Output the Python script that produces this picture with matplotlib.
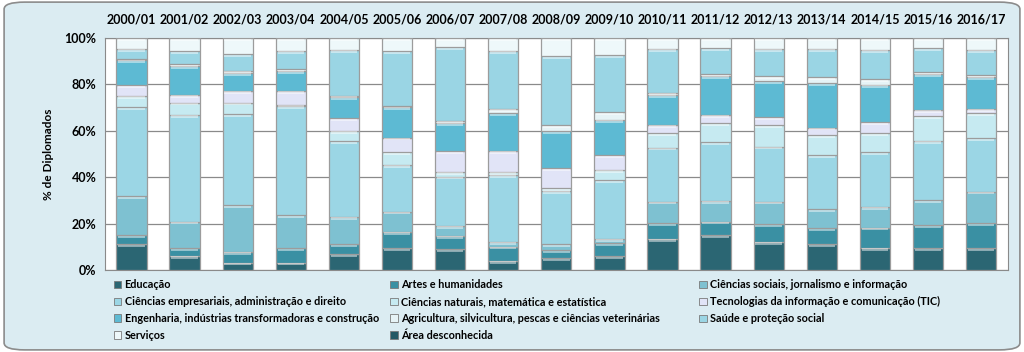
import numpy as np
import matplotlib
matplotlib.use("Agg")
import matplotlib.pyplot as plt
from matplotlib.patches import FancyBboxPatch, Patch

# anos letivos
anos = ["2000/01", "2001/02", "2002/03", "2003/04", "2004/05", "2005/06", "2006/07",
        "2007/08", "2008/09", "2009/10", "2010/11", "2011/12", "2012/13", "2013/14",
        "2014/15", "2015/16", "2016/17"]

# % de diplomados por area
educacao = [11.1, 6.2, 3.2, 3.2, 6.8, 9.4, 8.9, 4.0, 5.0, 6.0, 13.4, 15.1, 12.2, 11.1, 9.6, 9.4, 9.4]
artes = [4.0, 3.2, 4.7, 6.2, 4.3, 7.1, 5.8, 6.1, 3.6, 5.5, 6.7, 5.8, 7.5, 6.9, 8.7, 10.0, 10.7]
ciencias_sociais = [16.8, 11.5, 19.9, 14.3, 11.9, 8.7, 4.4, 2.1, 2.5, 1.9, 9.4, 8.9, 9.8, 8.3, 9.0, 10.8, 13.7]
empresariais = [38.2, 46.0, 39.4, 46.8, 32.4, 20.1, 21.2, 28.8, 23.0, 25.4, 23.3, 25.3, 23.7, 23.1, 23.5, 25.5, 23.0]
naturais = [5.0, 5.3, 5.0, 0.7, 4.6, 5.5, 2.1, 1.4, 1.2, 4.4, 6.2, 8.2, 9.1, 8.6, 8.2, 10.5, 10.8]
tic = [4.5, 3.3, 5.1, 6.1, 5.5, 6.3, 8.7, 9.0, 8.6, 6.4, 3.6, 3.6, 3.5, 3.4, 4.7, 2.9, 1.9]
engenharia = [11.0, 12.6, 7.6, 8.6, 9.2, 13.0, 12.2, 16.2, 15.8, 15.1, 12.9, 16.6, 15.5, 19.2, 16.2, 15.4, 13.5]
agricultura = [0.3, 0.7, 1.0, 0.7, 0.4, 0.5, 1.0, 1.9, 2.6, 3.2, 1.0, 1.0, 2.2, 2.4, 2.4, 0.8, 0.9]
saude = [4.4, 5.4, 7.2, 7.9, 19.9, 23.6, 31.7, 25.0, 29.8, 24.6, 18.9, 11.2, 11.9, 12.4, 12.7, 10.4, 11.1]
servicos = [4.7, 5.8, 6.9, 5.5, 5.0, 5.8, 4.0, 5.5, 7.9, 7.5, 4.6, 4.3, 4.6, 4.6, 5.0, 4.3, 5.0]
desconhecida = [0.0] * 17

areas = ["Educação", "Artes e humanidades", "Ciências sociais, jornalismo e informação",
         "Ciências empresariais, administração e direito",
         "Ciências naturais, matemática e estatística",
         "Tecnologias da informação e comunicação (TIC)",
         "Engenharia, indústrias transformadoras e construção",
         "Agricultura, silvicultura, pescas e ciências veterinárias",
         "Saúde e proteção social", "Serviços", "Área desconhecida"]
series = [educacao, artes, ciencias_sociais, empresariais, naturais, tic,
          engenharia, agricultura, saude, servicos, desconhecida]
cores = ["#2b6673", "#3a90a3", "#7ec1d1", "#9bd6e5", "#c6eaf1", "#e1e4f7",
         "#5dbad3", "#e6f3f6", "#9ad5e4", "#eef8fa", "#245965"]

plt.rcParams["font.family"] = ["Lato", "DejaVu Sans"]

fig = plt.figure(figsize=(10.24, 3.52), dpi=100)
fig.patch.set_facecolor("white")
fig.patches.append(FancyBboxPatch((0.004, 0.006), 0.992, 0.988,
                                  boxstyle="round,pad=0,rounding_size=0.02",
                                  transform=fig.transFigure, facecolor="#dbecf2",
                                  edgecolor="#8c8c8c", linewidth=1.2, zorder=-1))

ax = fig.add_axes([0.1025, 0.233, 0.8815, 0.659])
x = np.arange(len(anos))
bottom = np.zeros(len(anos))
for vals, cor in zip(series, cores):
    v = np.array(vals)
    ax.bar(x, v, 0.57, bottom=bottom, color=cor, edgecolor="#9c9c9c", linewidth=0.9, zorder=3)
    # faixa clara no topo de cada segmento (efeito biselado)
    hl = np.minimum(v, 1.0)
    ax.bar(x, hl, 0.50, bottom=bottom + v - hl - 0.25, color="white", alpha=0.45,
           linewidth=0, zorder=4)
    bottom += v

ax.set_xlim(-0.5, len(anos) - 0.5)
ax.set_ylim(0, 100)
ax.set_yticks(range(0, 101, 20))
ax.set_yticklabels([f"{t}%" for t in range(0, 101, 20)], fontsize=9, fontweight="bold")
ax.xaxis.tick_top()
ax.set_xticks(x)
ax.set_xticklabels(anos, fontsize=9, fontweight="bold")
ax.tick_params(axis="both", length=0, pad=6)
ax.tick_params(axis="x", pad=9)
ax.set_ylabel("% de Diplomados", fontsize=8.5, fontweight="bold", labelpad=8)
ax.grid(axis="y", color="#8a8a8a", linewidth=0.9, zorder=0)
for s in ax.spines.values():
    s.set_color("#8a8a8a")
ax.set_facecolor("white")

# legenda em 3 colunas, preenchida por linhas
handles = [Patch(facecolor=c, edgecolor="#7a7a7a", linewidth=0.6) for c in cores]
col_x = [0.111, 0.381, 0.683]
for c in range(3):
    idx = list(range(c, len(areas), 3))
    leg = fig.legend([handles[i] for i in idx], [areas[i] for i in idx],
                     loc="upper left", bbox_to_anchor=(col_x[c], 0.207),
                     frameon=False, fontsize=7.85, handlelength=0.7, handleheight=0.7,
                     handletextpad=0.3, labelspacing=0.55, borderpad=0, borderaxespad=0)
    for t in leg.get_texts():
        t.set_fontweight("bold")

fig.savefig("out.png", dpi=100, facecolor=fig.get_facecolor())
